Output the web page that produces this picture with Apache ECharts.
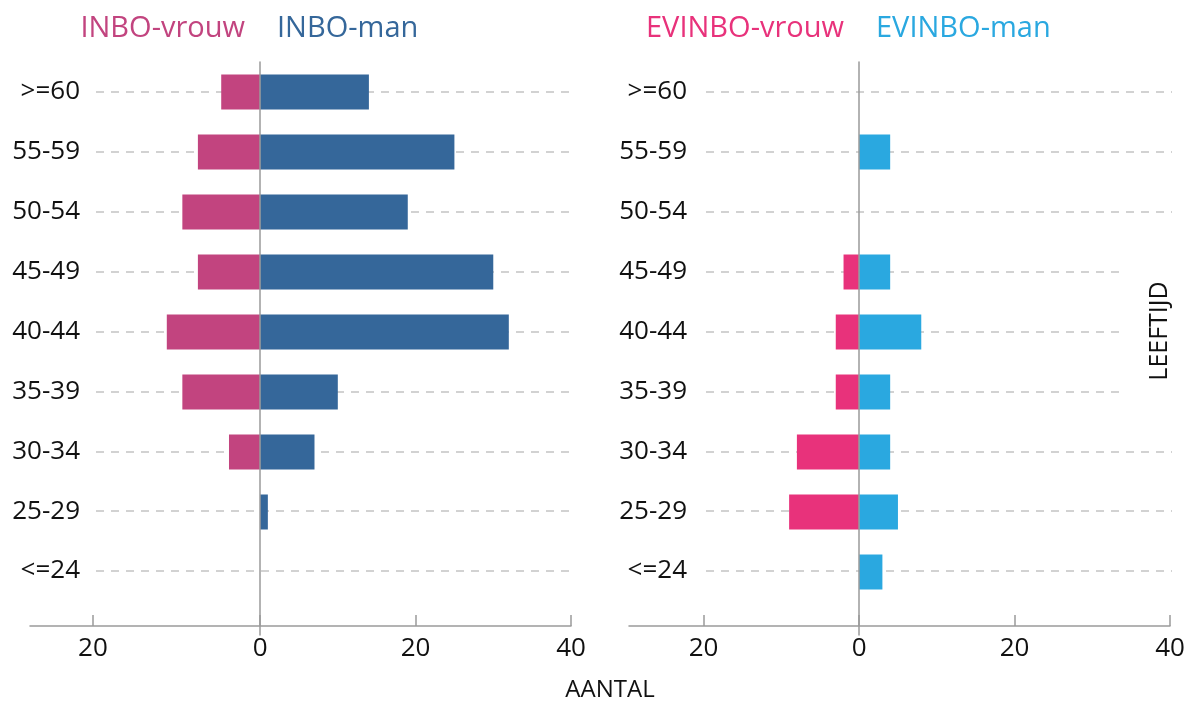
<!DOCTYPE html>
<html style="height: 100%">
<head>
    <meta charset="utf-8">
</head>
<body style="height: 100%; margin: 0">
    <div id="container" style="width: 1188px; height: 704px;"></div>
    <script type="text/javascript" src="https://cdn.jsdelivr.net/npm/echarts@6/dist/echarts.min.js"></script>
    <script type="text/javascript">
        var categories = ['<=24', '25-29', '30-34', '35-39', '40-44', '45-49', '50-54', '55-59', '>=60'];
        var inboVrouw = [0, 0, 4, 10, 12, 8, 10, 8, 5];
        var inboMan = [0, 1, 7, 10, 32, 30, 19, 25, 14];
        var evinboVrouw = [0, 9, 8, 3, 3, 2, 0, 0, 0];
        var evinboMan = [3, 5, 4, 4, 8, 4, 0, 4, 0];
        // the left chart draws its "20" tick a bit further out than its bars' scale
        var inboTicks = [-21.5, 0, 20, 40];
        var evinboTicks = [-20, 0, 20, 40];
        var tickLabels = ['20', '0', '20', '40'];

        var FONT = 'Open Sans';
        var AXIS_COLOR = '#9a9a9a';
        var xMin = -29.6, xMax = 40;

        var dom = document.getElementById("container");
        var myChart = echarts.init(dom);

        var grids = [], xAxes = [], yAxes = [], series = [];

        // one panel = bar grid + dashed-line grid + zero-line grid
        function addPanel(p) {
            var g0 = grids.length;
            grids.push({ left: p.left, top: 62, width: 541, height: 540 });
            grids.push({ left: p.lineLeft, top: 92, width: p.lineWidth, height: 479 });
            grids.push({ left: p.left, top: 62, width: 541, height: 573 });

            xAxes.push({
                gridIndex: g0, type: 'value', min: xMin, max: xMax, offset: 24,
                axisLine: { show: true, onZero: false, lineStyle: { color: AXIS_COLOR, width: 1.5 } },
                axisTick: { show: true, inside: true, length: 11, customValues: p.ticks, lineStyle: { color: AXIS_COLOR, width: 1.5 } },
                axisLabel: {
                    customValues: p.ticks, margin: 10, fontSize: 26, color: '#111', fontFamily: FONT,
                    align: 'center', alignMinLabel: 'center', alignMaxLabel: 'center',
                    formatter: function (v) { return tickLabels[p.ticks.indexOf(v)]; }
                },
                splitLine: { show: false }
            });
            yAxes.push({ gridIndex: g0, type: 'category', data: categories, show: false });

            xAxes.push({ gridIndex: g0 + 1, type: 'value', min: 0, max: 1, show: false });
            yAxes.push({
                gridIndex: g0 + 1, type: 'category', data: categories, boundaryGap: false,
                axisLine: { show: false }, axisTick: { show: false },
                axisLabel: { interval: 0, margin: p.labelMargin, fontSize: 26, color: '#111', fontFamily: FONT },
                splitLine: { show: true, interval: 0, lineStyle: { color: '#c4c4c4', width: 1.5, type: [8, 7] } }
            });

            xAxes.push({
                gridIndex: g0 + 2, type: 'value', min: xMin, max: xMax,
                axisLine: { show: false }, axisTick: { show: false }, axisLabel: { show: false }, splitLine: { show: false }
            });
            yAxes.push({
                gridIndex: g0 + 2, type: 'value', min: 0, max: 1, z: 5,
                axisLine: { show: true, onZero: true, lineStyle: { color: AXIS_COLOR, width: 1.5 } },
                axisTick: { show: false }, axisLabel: { show: false }, splitLine: { show: false }
            });

            series.push({
                name: p.names[0], type: 'bar', stack: p.stack, xAxisIndex: g0, yAxisIndex: g0,
                barWidth: 35, itemStyle: { color: p.colors[0] },
                data: p.vrouw.map(function (v) { return -v; })
            });
            series.push({
                name: p.names[1], type: 'bar', stack: p.stack, xAxisIndex: g0, yAxisIndex: g0,
                barWidth: 35, itemStyle: { color: p.colors[1] },
                data: p.man
            });
        }

        addPanel({
            left: 30, lineLeft: 96, lineWidth: 479, labelMargin: 16, stack: 'inbo', ticks: inboTicks,
            names: ['INBO-vrouw', 'INBO-man'], colors: ['#c2447f', '#35679a'],
            vrouw: inboVrouw, man: inboMan
        });
        addPanel({
            left: 629, lineLeft: 706, lineWidth: 466, labelMargin: 19, stack: 'evinbo', ticks: evinboTicks,
            names: ['EVINBO-vrouw', 'EVINBO-man'], colors: ['#e8327b', '#2aa8e0'],
            vrouw: evinboVrouw, man: evinboMan
        });

        function label(text, x, y, color, align, size) {
            return {
                type: 'text', x: x, y: y, z: 20,
                style: { text: text, fill: color, font: size + 'px "' + FONT + '"', textAlign: align, textVerticalAlign: 'middle' }
            };
        }

        option = {
            animation: false,
            grid: grids,
            xAxis: xAxes,
            yAxis: yAxes,
            series: series,
            graphic: [
                label('INBO-vrouw', 245, 29, '#c2447f', 'right', 29),
                label('INBO-man', 277, 29, '#35679a', 'left', 29),
                label('EVINBO-vrouw', 844, 29, '#e8327b', 'right', 29),
                label('EVINBO-man', 876, 29, '#2aa8e0', 'left', 29),
                label('AANTAL', 610, 690, '#111', 'center', 24),
                {
                    type: 'rect', z: 15,
                    shape: { x: 1121, y: 250, width: 67, height: 160 },
                    style: { fill: '#fff' }
                },
                {
                    type: 'text', x: 1160, y: 331, rotation: Math.PI / 2, z: 20,
                    style: { text: 'LEEFTIJD', fill: '#111', font: '25px "' + FONT + '"', textAlign: 'center', textVerticalAlign: 'middle' }
                }
            ]
        };

        if (option && typeof option === "object") {
            myChart.setOption(option, true);
        }
    </script>
</body>
</html>
